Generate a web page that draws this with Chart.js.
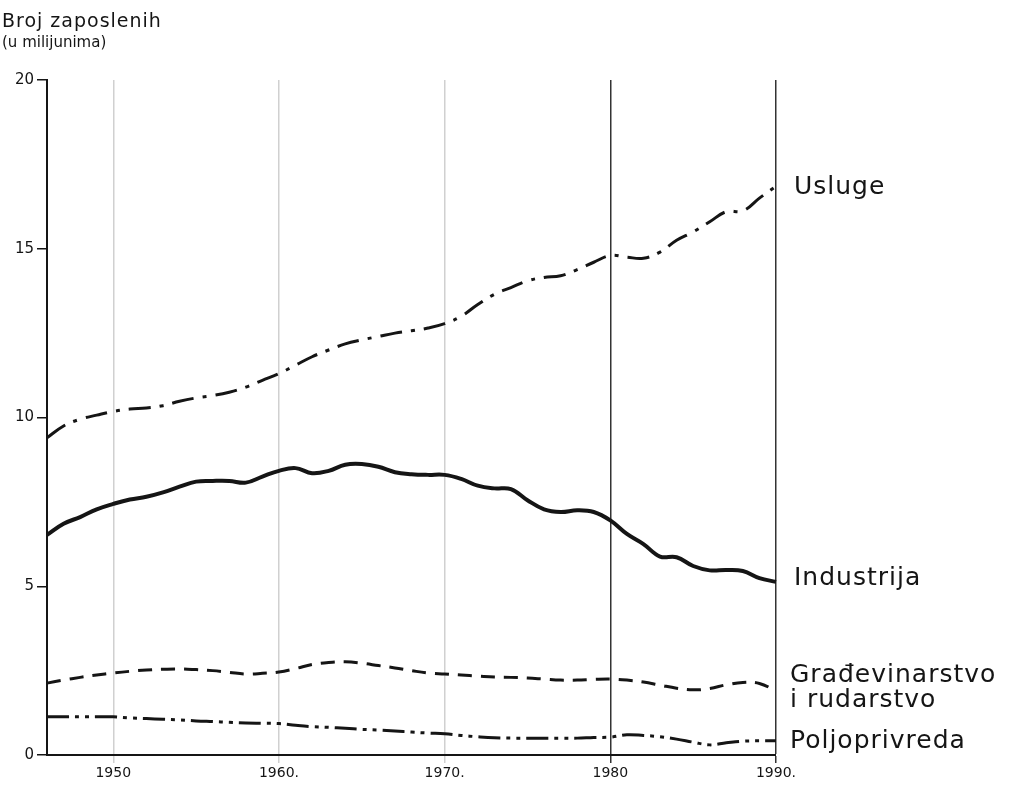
<!DOCTYPE html>
<html>
<head>
<meta charset="utf-8">
<title>Broj zaposlenih</title>
<script src="https://cdn.jsdelivr.net/npm/chart.js@4/dist/chart.umd.min.js"></script>
<style>
  html, body { margin: 0; padding: 0; background: #fff; }
  #wrap { position: relative; width: 1014px; height: 791px; }
</style>
</head>
<body>
<div id="wrap"><canvas id="chart"></canvas></div>
<script>
// Years 1946–1990
var years = [];
for (var y = 1946; y <= 1990; y++) years.push(y);

// Decade tick labels, as printed under the axis
var tickLabels = { 1950: '1950', 1960: '1960.', 1970: '1970.', 1980: '1980', 1990: '1990.' };

// Employment in millions
var usluge = [
  9.40, 9.75, 9.95, 10.07, 10.18, 10.25, 10.28, 10.35, 10.48, 10.58,
  10.65, 10.75, 10.90, 11.10, 11.30, 11.55, 11.80, 12.00, 12.18, 12.30,
  12.40, 12.50, 12.57, 12.65, 12.78, 13.00, 13.35, 13.65, 13.85, 14.05,
  14.15, 14.20, 14.38, 14.60, 14.80, 14.75, 14.72, 14.90, 15.25, 15.50,
  15.80, 16.10, 16.12, 16.50, 16.85
];
var industrija = [
  6.52, 6.85, 7.05, 7.28, 7.44, 7.57, 7.65, 7.78, 7.95, 8.10,
  8.12, 8.12, 8.07, 8.25, 8.42, 8.50, 8.35, 8.42, 8.60, 8.62,
  8.54, 8.38, 8.32, 8.30, 8.30, 8.18, 7.98, 7.90, 7.88, 7.55,
  7.28, 7.20, 7.25, 7.20, 6.95, 6.55, 6.25, 5.88, 5.86, 5.60,
  5.47, 5.48, 5.45, 5.24, 5.13
];
var gradjevinarstvo = [
  2.13, 2.22, 2.30, 2.37, 2.43, 2.48, 2.52, 2.54, 2.55, 2.53,
  2.50, 2.45, 2.40, 2.42, 2.46, 2.56, 2.68, 2.74, 2.76, 2.72,
  2.65, 2.58, 2.50, 2.43, 2.40, 2.37, 2.34, 2.31, 2.30, 2.28,
  2.25, 2.22, 2.22, 2.24, 2.25, 2.22, 2.16, 2.07, 1.98, 1.93,
  1.97, 2.08, 2.15, 2.12, 1.90
];
var poljoprivreda = [
  1.13, 1.13, 1.13, 1.13, 1.13, 1.10, 1.08, 1.06, 1.04, 1.01,
  0.99, 0.97, 0.95, 0.94, 0.93, 0.88, 0.84, 0.82, 0.79, 0.76,
  0.74, 0.71, 0.68, 0.65, 0.63, 0.58, 0.54, 0.51, 0.50, 0.50,
  0.50, 0.50, 0.50, 0.52, 0.53, 0.60, 0.58, 0.54, 0.47, 0.38,
  0.30, 0.36, 0.41, 0.42, 0.42
];

var INK = '#151515';
var FONT = '"DejaVu Sans", sans-serif';

// Right-hand series names and heading text
var textPlugin = {
  id: 'texts',
  afterDraw: function (chart) {
    var ctx = chart.ctx;
    var ys = chart.scales.y;
    var x = chart.chartArea.right + 18;
    ctx.save();
    ctx.fillStyle = INK;
    ctx.textAlign = 'left';
    ctx.textBaseline = 'middle';

    ctx.letterSpacing = '1px';
    ctx.font = '25px ' + FONT;
    ctx.fillText('Usluge', x, ys.getPixelForValue(usluge[usluge.length - 1]) + 1);
    ctx.fillText('Industrija', x, ys.getPixelForValue(industrija[industrija.length - 1]) - 3);
    var g = ys.getPixelForValue(gradjevinarstvo[gradjevinarstvo.length - 1]);
    ctx.fillText('Građevinarstvo', x - 4, g - 15);
    ctx.fillText('i rudarstvo', x - 4, g + 10);
    ctx.fillText('Poljoprivreda', x - 4, ys.getPixelForValue(poljoprivreda[poljoprivreda.length - 1]) + 1);

    ctx.font = '19px ' + FONT;
    ctx.fillText('Broj zaposlenih', 2, 22);
    ctx.letterSpacing = '0px';
    ctx.font = '15px ' + FONT;
    ctx.fillText('(u milijunima)', 2, 43);
    ctx.restore();
  }
};

function lineSet(label, data, width, dash) {
  return {
    label: label, data: data,
    borderColor: INK, backgroundColor: INK,
    borderWidth: width, borderDash: dash,
    pointRadius: 0, tension: 0.4, fill: false
  };
}

new Chart(document.getElementById('chart'), {
  type: 'line',
  data: {
    labels: years,
    datasets: [
      lineSet('Usluge', usluge, 3, [22, 9, 4, 9]),
      lineSet('Industrija', industrija, 4, []),
      lineSet('Građevinarstvo i rudarstvo', gradjevinarstvo, 3, [14, 9]),
      lineSet('Poljoprivreda', poljoprivreda, 3, [22, 6, 4, 6, 4, 6])
    ]
  },
  options: {
    responsive: true, maintainAspectRatio: false,
    animation: false,
    layout: { padding: { top: 80, right: 238, left: 0, bottom: 0 } },
    plugins: { legend: { display: false }, tooltip: { enabled: false } },
    scales: {
      x: {
        offset: false,
        afterFit: function (s) { s.height = 36; },
        border: { color: INK, width: 2 },
        grid: {
          drawOnChartArea: true,
          tickLength: 8,
          lineWidth: function (c) { return tickLabels[years[c.index]] ? 1.5 : 0; },
          color: function (c) {
            var yr = years[c.index];
            if (!tickLabels[yr]) return 'rgba(0,0,0,0)';
            return yr >= 1980 ? '#333' : '#d0d0d0';
          }
        },
        ticks: {
          autoSkip: false, maxRotation: 0, padding: 2,
          color: INK, font: { family: FONT, size: 14 },
          callback: function (v, i) { return tickLabels[years[i]] || ''; }
        }
      },
      y: {
        min: 0, max: 20,
        afterFit: function (s) { s.width = 47; },
        border: { color: INK, width: 2 },
        grid: { drawOnChartArea: false, tickLength: 10, color: INK, lineWidth: 1.5 },
        ticks: {
          stepSize: 5, padding: 3,
          color: INK, font: { family: FONT, size: 15 }
        }
      }
    }
  },
  plugins: [textPlugin]
});
</script>
</body>
</html>
